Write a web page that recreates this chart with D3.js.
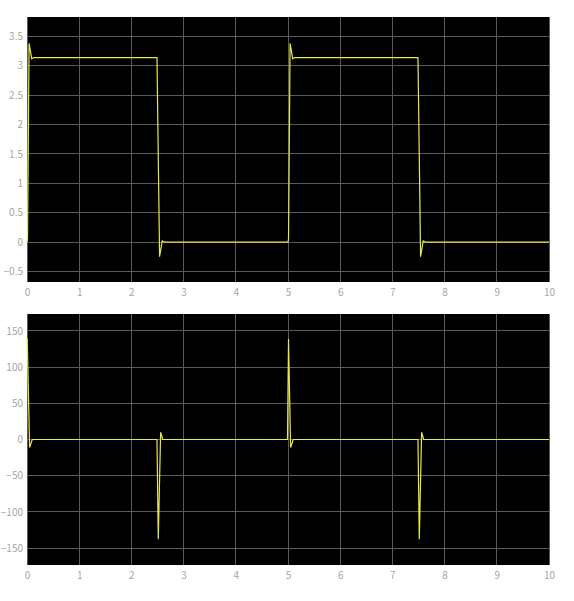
<!DOCTYPE html>
<html><head><meta charset="utf-8">
<script src="https://cdn.jsdelivr.net/npm/d3@7"></script>
<style>body{margin:0;background:#fff;}svg{display:block;}</style>
</head><body>
<script>
// Data
const topTime  = [0, 0.01, 0.04, 0.09, 0.13, 2.49, 2.54, 2.59, 2.63, 5.0, 5.01, 5.04, 5.09, 5.13, 7.49, 7.54, 7.59, 7.63, 10];
const topValue = [0, 0.05, 3.38, 3.12, 3.14, 3.14, -0.25, 0.02, 0, 0, 0.05, 3.38, 3.12, 3.14, 3.14, -0.25, 0.02, 0, 0];
const botTime  = [0, 0.005, 0.05, 0.1, 2.49, 2.515, 2.56, 2.6, 4.99, 5.01, 5.05, 5.1, 7.49, 7.515, 7.56, 7.6, 10];
const botValue = [140, 138, -11, 0, 0, -138, 10, 0, 0, 139, -11, 0, 0, -138, 10, 0, 0];
const xTicks = [0,1,2,3,4,5,6,7,8,9,10];
const topYTicks = [-0.5,0,0.5,1,1.5,2,2.5,3,3.5];
const botYTicks = [-150,-100,-50,0,50,100,150];
const topDomain = [-0.68, 3.83];
const botDomain = [-173.5, 173.5];

const W = 574, H = 601;
const svg = d3.select("body").append("svg").attr("width", W).attr("height", H);

function panel(y0, y1, tData, vData, domain, yTicks) {
  const x = d3.scaleLinear().domain([0, 10]).range([27, 549]);
  const y = d3.scaleLinear().domain(domain).range([y1, y0]);
  const g = svg.append("g");
  g.append("rect").attr("x", 27).attr("y", y0).attr("width", 522).attr("height", y1 - y0).attr("fill", "#000");
  // grid
  g.selectAll(".vg").data(xTicks).enter().append("line")
    .attr("x1", d => x(d)).attr("x2", d => x(d)).attr("y1", y0).attr("y2", y1)
    .attr("stroke", "#5a5a5a").attr("stroke-width", 1).attr("shape-rendering", "crispEdges");
  g.selectAll(".hg").data(yTicks).enter().append("line")
    .attr("x1", 27).attr("x2", 549).attr("y1", d => y(d)).attr("y2", d => y(d))
    .attr("stroke", "#5a5a5a").attr("stroke-width", 1).attr("shape-rendering", "crispEdges");
  // axes labels
  const fmt = d => (d < 0 ? "\u2212" + Math.abs(d) : String(d));
  const xa = d3.axisBottom(x).tickValues(xTicks).tickSize(0).tickPadding(7).tickFormat(fmt);
  const ya = d3.axisLeft(y).tickValues(yTicks).tickSize(0).tickPadding(4).tickFormat(fmt);
  const gx = g.append("g").attr("transform", `translate(0,${y1})`).call(xa);
  const gy = g.append("g").attr("transform", `translate(27,0)`).call(ya);
  [gx, gy].forEach(a => {
    a.select(".domain").remove();
    a.selectAll("text").attr("fill", "#a6a6a6").style("font-family", "'Noto Sans CJK JP', 'DejaVu Sans', sans-serif").style("font-size", "10px");
  });
  const pts = tData.map((t, i) => [t, vData[i]]);
  const line = d3.line().x(d => x(d[0])).y(d => y(d[1]));
  g.append("path").datum(pts).attr("d", line).attr("fill", "none")
    .attr("stroke", "#e8e84c").attr("stroke-width", 1.2);
}

panel(17, 282, topTime, topValue, topDomain, topYTicks);
panel(314, 565, botTime, botValue, botDomain, botYTicks);
</script>
</body></html>
